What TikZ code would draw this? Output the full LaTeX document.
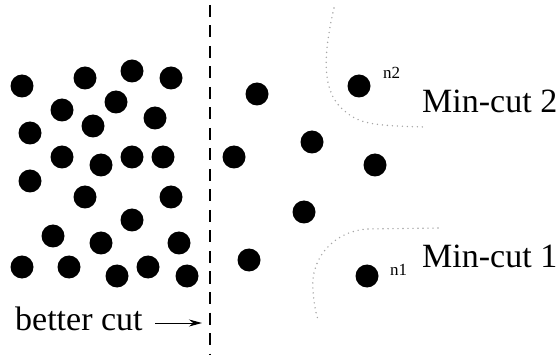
\documentclass[tikz,border=0pt]{standalone}
\usepackage{fontspec}
\setmainfont{Liberation Serif}
\usetikzlibrary{arrows.meta}
\begin{document}
\begin{tikzpicture}[x=1pt,y=-1pt,
  dot/.style={circle,fill=black,minimum size=23pt,inner sep=0pt},
  bigtext/.style={font=\fontsize{34}{40}\selectfont,inner sep=0pt,anchor=base west},
  smalltext/.style={font=\fontsize{17}{20}\selectfont,inner sep=0pt,anchor=base west},
  cutline/.style={line width=2.6pt,dash pattern=on 12pt off 8.5pt},
  mincut/.style={gray!70,line width=1.6pt,line cap=round,dash pattern=on 0pt off 5pt}]
\useasboundingbox (0,0) rectangle (557,358);
% left group
\foreach \i/\x/\y in {1/22/86,2/85/78,3/132/71,4/171/78,5/62/110,6/116/102,7/155/118,
  8/30/133,9/93/126,10/62/157,11/101/165,12/132/157,13/163/157,14/30/181,15/85/197,
  16/171/197,17/132/220,18/53/236,19/101/243,20/179/243,21/22/267,22/69/267,23/117/276,
  24/148/267,25/187/276}
  \node[dot] (d\i) at (\x,\y) {};
% right group
\foreach \i/\x/\y in {26/257/94,27/312/142,28/234/157,29/375/165,30/304/212,31/249/260}
  \node[dot] (d\i) at (\x,\y) {};
\node[dot] (n2dot) at (359,86) {};
\node[dot] (n1dot) at (367,276) {};
\node[smalltext] (n2) at (383,79) {n2};
\node[smalltext] (n1) at (390,276) {n1};
% labels
\node[bigtext] (mc2) at (422,113) {Min-cut 2};
\node[bigtext] (mc1) at (422,268) {Min-cut 1};
\node[bigtext] (bc) at (15,330) {better cut};
% dashed cut line
\coordinate (ctop) at (210,5);
\coordinate (cbot) at (210,355);
\draw[cutline] (ctop) -- (cbot);
% arrow
\coordinate (atail) at (155,323);
\coordinate (ahead) at (202,323);
\draw[line width=1pt,-{Stealth[length=13pt,width=7pt]}] (atail) -- (ahead);
% min-cut curves
\draw[mincut] (334,8) .. controls (322,60) and (322,95) .. (347,113)
  .. controls (360,123) and (372,126) .. (427,127);
\draw[mincut] (438,228) -- (367,229) .. controls (330,232) and (310,262) .. (313,290)
  .. controls (314,305) and (316,315) .. (319,322);
\end{tikzpicture}
\end{document}
